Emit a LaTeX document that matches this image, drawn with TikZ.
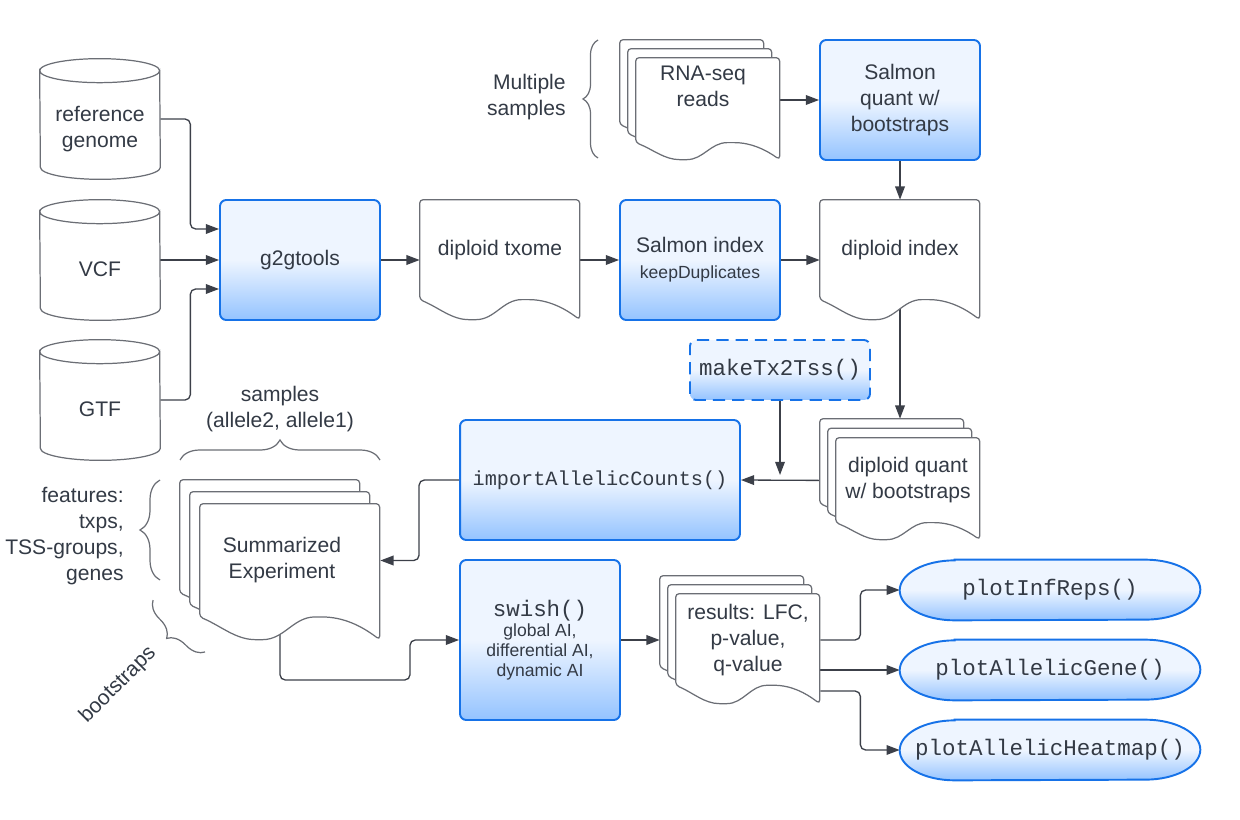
\documentclass[tikz,border=0pt]{standalone}
\usepackage{fontspec}
\setmainfont{Liberation Sans}
\setmonofont{Liberation Mono}
\usetikzlibrary{arrows.meta,calc,decorations.pathreplacing}
\definecolor{lucblue}{HTML}{1672E8}
\definecolor{boxtop}{HTML}{EEF5FF}
\definecolor{boxbot}{HTML}{94C3FF}
\definecolor{ink}{HTML}{333A45}
\definecolor{wire}{HTML}{3C4049}
\definecolor{edge}{HTML}{6B6E75}
\pgfdeclarelayer{wires}
\pgfdeclarelayer{shapes}
\pgfsetlayers{wires,shapes,main}
\tikzset{>={Triangle[length=7.5pt,width=5.5pt]}}
\tikzset{
  txt/.style={text=ink,font=\fontsize{12}{14.8}\selectfont,align=center,inner sep=0pt},
  bluefill/.style={draw=lucblue,line width=1.1pt,top color=boxtop,bottom color=boxbot,middle color=boxtop},
  box/.style={txt,bluefill,rounded corners=3.5pt},
  dbox/.style={box,dash pattern=on 7pt off 4pt},
  pill/.style={txt,minimum width=6cm,minimum height=1.2cm,font=\mono},
  cyl/.style={txt,minimum width=2.4cm,minimum height=2.4cm},
  outline/.style={draw=edge,line width=0.7pt},
  conn/.style={->,draw=wire,line width=0.75pt,rounded corners=3pt},
  curly/.style={draw=edge,line width=0.7pt,decorate,decoration={brace,amplitude=#1}}
}
\newcommand{\mono}{\ttfamily\fontsize{12.8}{14}\selectfont}
\newcommand{\smalltxt}{\fontsize{10}{11.4}\selectfont}
% document shape behind a node: node, width, height, dx, dy (px)
\newcommand{\docout}[5]{%
  \begin{pgfonlayer}{shapes}
  \begin{scope}[shift={($(#1.north west)+(#4,#5)$)}]
    \draw[outline,fill=white,rounded corners=2pt] (#2,#3)
      .. controls ({0.9*#2},{0.9*#3}) and ({0.8*#2},{0.833*#3}) .. ({0.66*#2},{0.833*#3})
      .. controls ({0.52*#2},{0.833*#3}) and ({0.47*#2},#3) .. ({0.33*#2},#3)
      .. controls ({0.2*#2},#3) and ({0.12*#2},{0.9*#3}) .. (0,{0.833*#3})
      -- (0,0) -- (#2,0) -- cycle;
  \end{scope}
  \end{pgfonlayer}}
\newcommand{\docstack}[5]{%
  \docout{#1}{#2}{#3}{-2*#4}{-2*#5}
  \docout{#1}{#2}{#3}{-#4}{-#5}
  \docout{#1}{#2}{#3}{0}{0}}
% cylinder behind a node
\newcommand{\cylout}[1]{%
  \begin{pgfonlayer}{shapes}
    \draw[outline,fill=white] ([yshift=-0.24cm]#1.north west)
      arc[start angle=180,end angle=360,x radius=1.2cm,y radius=0.24cm]
      -- ([yshift=0.24cm]#1.south east)
      arc[start angle=0,end angle=-180,x radius=1.2cm,y radius=0.24cm] -- cycle;
    \draw[outline] ([yshift=-0.24cm]#1.north west)
      arc[start angle=180,end angle=0,x radius=1.2cm,y radius=0.24cm];
  \end{pgfonlayer}}
% terminator behind a node
\newcommand{\pillout}[1]{%
  \begin{pgfonlayer}{shapes}
    \draw[bluefill] ([xshift=1.1cm]#1.north west) -- ([xshift=-1.1cm]#1.north east)
      arc[start angle=90,end angle=-90,x radius=1.1cm,y radius=0.6cm]
      -- ([xshift=1.1cm]#1.south west)
      arc[start angle=270,end angle=90,x radius=1.1cm,y radius=0.6cm] -- cycle;
  \end{pgfonlayer}}

\begin{document}
\begin{tikzpicture}[x=0.02cm,y=-0.02cm]
  \useasboundingbox (0,0) rectangle (1240,820);
  % inputs
  \node[cyl,label={[txt,yshift=-0.2cm]center:reference\\genome}] (ref) at (100,119) {};
  \node[cyl,label={[txt,yshift=-0.18cm]center:VCF}] (vcf) at (100,260) {};
  \node[cyl,label={[txt,yshift=-0.18cm]center:GTF}] (gtf) at (100,400) {};
  \cylout{ref} \cylout{vcf} \cylout{gtf}
  % index building
  \node[box,minimum width=3.2cm,minimum height=2.4cm] (g2g) at (300,260) {g2gtools};
  \node[txt,minimum width=3.2cm,minimum height=2cm] (txome) at (500,250) {diploid txome};
  \node[box,minimum width=3.2cm,minimum height=2.4cm] (sidx) at (700,260) {Salmon index\\{\smalltxt keepDuplicates}};
  \node[txt,minimum width=3.2cm,minimum height=2cm] (didx) at (900,250) {diploid index};
  \docout{txome}{160}{120}{0}{0}
  \docout{didx}{160}{120}{0}{0}
  % quantification
  \node[txt,align=right,anchor=east] (ms) at (566,97) {Multiple\\samples};
  \node[txt,minimum width=2.88cm,minimum height=1.7cm,
    label={[txt,xshift=-0.1cm,yshift=0.28cm]center:RNA-seq\\reads}] (reads) at (708,100.5) {};
  \docstack{reads}{144}{102}{8}{9}
  \node[box,minimum width=3.2cm,minimum height=2.4cm] (squant) at (900,100) {Salmon\\quant w/\\bootstraps};
  \node[txt,minimum width=2.88cm,minimum height=1.7cm] (dquant) at (908,480.5) {diploid quant\\w/ bootstraps};
  \docstack{dquant}{144}{102}{8}{9.5}
  % import
  \node[dbox,minimum width=3.6cm,minimum height=1.2cm,font=\mono] (mtss) at (780,370) {makeTx2Tss()};
  \node[box,minimum width=5.6cm,minimum height=2.4cm,font=\ttfamily\fontsize{11.5}{13}\selectfont] (iac) at (600,480) {importAllelicCounts()};
  \node[txt] (samp) at (280,409) {samples\\(allele2, allele1)};
  \node[txt,align=right,anchor=east] (feat) at (124,536) {features:\\txps,\\TSS-groups,\\genes};
  \node[txt,rotate=45] (boot) at (118,685) {bootstraps};
  \node[txt,minimum width=3.6cm,minimum height=2.26cm,
    label={[txt,xshift=-0.16cm]center:Summarized\\Experiment}] (summ) at (290,560.5) {};
  \docstack{summ}{180}{136}{10}{12}
  \draw[curly=0.3cm] (598,158) -- (598,40);
  \draw[curly=0.4cm] (180,460) -- (380,460);
  \draw[curly=0.4cm] (160,580) -- (160,480);
  \draw[curly=0.35cm] (205,652) -- (153,600);
  % testing and plots
  \node[box,minimum width=3.2cm,minimum height=3.2cm,font=\smalltxt] (swish) at (540,640) {{\mono swish()}\\global AI,\\differential AI,\\dynamic AI};
  \node[txt,minimum width=2.88cm,minimum height=1.84cm] (res) at (748,640) {results: LFC,\\p-value,\\q-value};
  \docstack{res}{144}{110}{8}{9}
  \node[pill] (p1) at (1050,590) {plotInfReps()};
  \node[pill] (p2) at (1050,670) {plotAllelicGene()};
  \node[pill] (p3) at (1050,750) {plotAllelicHeatmap()};
  \pillout{p1} \pillout{p2} \pillout{p3}
  \coordinate (sbend) at (410,680);
  % connectors
  \begin{pgfonlayer}{wires}
    \draw[conn] (ref.east) -- ++(30,0) |- ($(g2g.west)+(0,-31)$);
    \draw[conn] (vcf.east) -- (g2g.west);
    \draw[conn] (gtf.east) -- ++(30,0) |- ($(g2g.west)+(0,29)$);
    \draw[conn] (g2g.east) -- (g2g.east -| txome.west);
    \draw[conn] (sidx.west -| txome.east) -- (sidx.west);
    \draw[conn] (sidx.east) -- (sidx.east -| didx.west);
    \draw[conn] (reads.east |- squant.west) -- (squant.west);
    \draw[conn] (squant.south) -- (didx.north);
    \draw[conn] (didx.south) -- ($(didx.south |- dquant.north)+(0,-19)$);
    \draw[conn] (dquant.west) -- (iac.east);
    \draw[conn] (mtss.south) -- ($(mtss.south |- iac.east)+(0,-5)$);
    \draw[conn] (iac.west) -- ++(-40,0) |- (summ.east);
    \draw[conn] ($(summ.south)+(-10,0)$) |- (sbend) |- (swish.west);
    \draw[conn] (swish.east) -- ($(res.west |- swish.east)+(-16,0)$);
    \draw[conn] (res.east) -- ++(40,0) |- (p1.west);
    \draw[conn] (res.east |- p2.west) -- (p2.west);
    \draw[conn] ($(res.east)+(0,51)$) -- ++(40,0) |- (p3.west);
  \end{pgfonlayer}
\end{tikzpicture}
\end{document}
